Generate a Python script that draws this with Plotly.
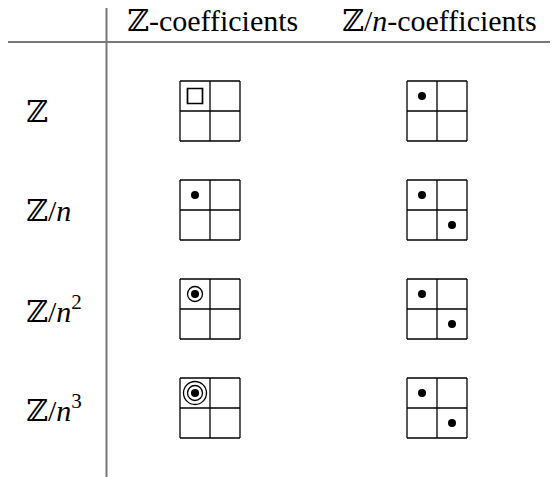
import plotly.graph_objects as go

# table contents
col_labels = ["ℤ-coefficients", "ℤ/<i>n</i>-coefficients"]
row_labels = ["ℤ", "ℤ/<i>n</i>", "ℤ/<i>n</i><sup>2</sup>", "ℤ/<i>n</i><sup>3</sup>"]

# what sits in each 2x2 grid: list of (cell_row, cell_col, glyph)
z_marks = [
    [(0, 0, "square")],
    [(0, 0, "dot")],
    [(0, 0, "ring1")],
    [(0, 0, "ring2")],
]
zn_marks = [
    [(0, 0, "dot")],
    [(0, 0, "dot"), (1, 1, "dot")],
    [(0, 0, "dot"), (1, 1, "dot")],
    [(0, 0, "dot"), (1, 1, "dot")],
]

# page body has an 8px margin, so axis units are screen pixels
W, H = 558, 477
PAD = 8
col_x = [210, 437]
row_y = [111, 210, 309, 408]
cell = 30
font = "Times New Roman, Liberation Serif, DejaVu Serif, serif"


def grid_lines(cx, cy):
    xs, ys = [], []
    for k in range(3):
        y = cy - cell + k * cell
        xs += [cx - cell, cx + cell, None]
        ys += [y, y, None]
        x = cx - cell + k * cell
        xs += [x, x, None]
        ys += [cy - cell, cy + cell, None]
    return xs, ys


fig = go.Figure()

gx, gy = [], []
for cx in col_x:
    for cy in row_y:
        xs, ys = grid_lines(cx, cy)
        gx += xs
        gy += ys
fig.add_trace(go.Scatter(x=gx, y=gy, mode="lines",
                         line=dict(color="black", width=1.3), hoverinfo="skip"))

ring = dict(symbol="circle-open", color="black", line=dict(width=1.3, color="black"))
glyph_style = {
    "square": [dict(symbol="square-open", size=15, color="black",
                    line=dict(width=1.7, color="black"))],
    "dot": [dict(symbol="circle", size=8, color="black")],
    "ring1": [dict(ring, size=15), dict(symbol="circle", size=8, color="black")],
    "ring2": [dict(ring, size=23), dict(ring, size=15),
              dict(symbol="circle", size=8, color="black")],
}

for ci, marks in enumerate([z_marks, zn_marks]):
    for ri, cell_marks in enumerate(marks):
        for cr, cc, glyph in cell_marks:
            px = col_x[ci] - cell / 2 + cc * cell
            py = row_y[ri] - cell / 2 + cr * cell
            for st in glyph_style[glyph]:
                fig.add_trace(go.Scatter(x=[px], y=[py], mode="markers",
                                         marker=st, hoverinfo="skip"))

# header and row labels
for ci, lab in enumerate(col_labels):
    fig.add_annotation(x=col_x[ci] + 2, y=20, text=lab, showarrow=False,
                       xanchor="center", yanchor="middle",
                       font=dict(family=font, size=30, color="black"))
for ri, lab in enumerate(row_labels):
    fig.add_annotation(x=24, y=row_y[ri], text=lab, showarrow=False,
                       xanchor="left", yanchor="middle",
                       font=dict(family=font, size=30, color="black"))

# rules
fig.add_shape(type="line", x0=0, x1=W, y0=42, y1=42,
              line=dict(color="#777777", width=2))
fig.add_shape(type="line", x0=106.5, x1=106.5, y0=3, y1=H,
              line=dict(color="#777777", width=2))

fig.update_layout(
    width=W - PAD, height=H - PAD,
    margin=dict(l=0, r=0, t=0, b=0),
    font=dict(family=font),
    paper_bgcolor="white", plot_bgcolor="white",
    showlegend=False,
    xaxis=dict(range=[PAD, W], visible=False, fixedrange=True),
    yaxis=dict(range=[H, PAD], visible=False, fixedrange=True),
)

fig.write_html("out.html")
